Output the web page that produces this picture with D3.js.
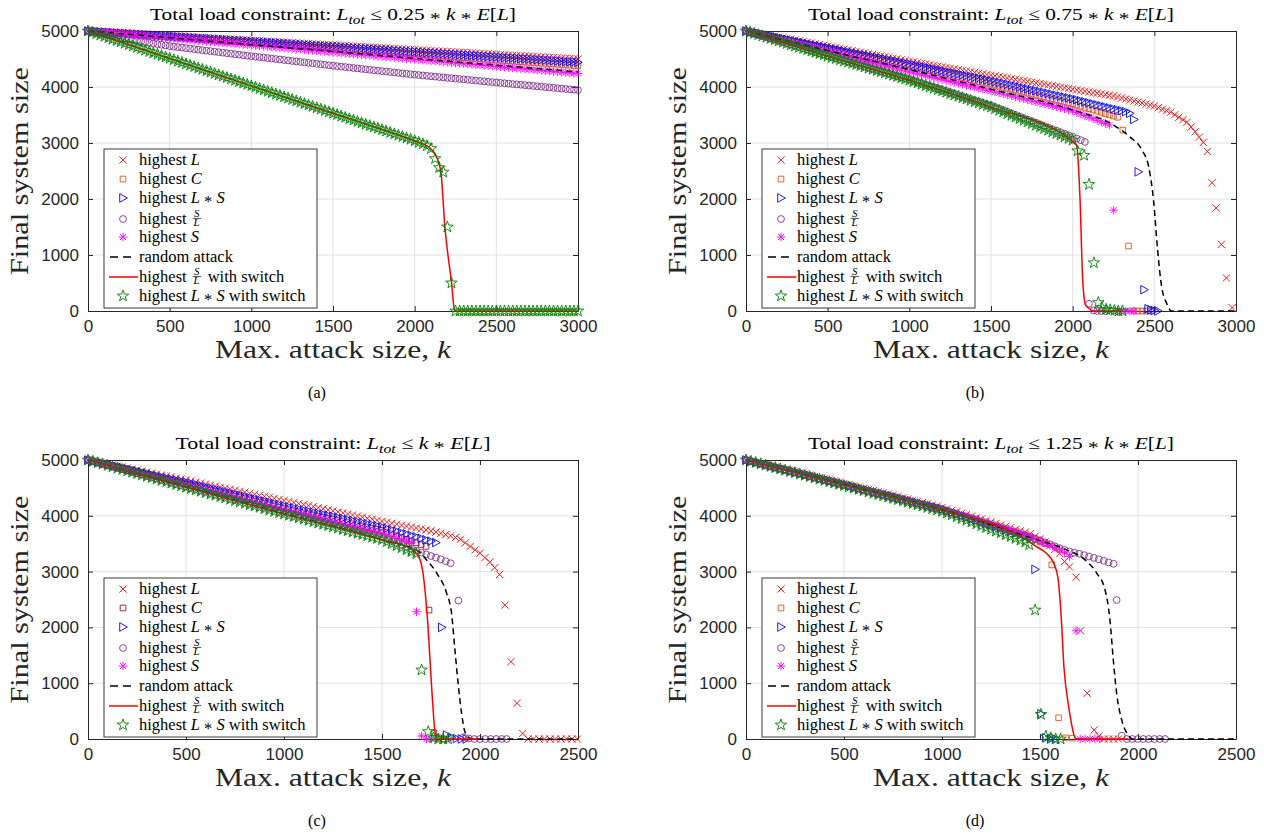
<!DOCTYPE html>
<html><head><meta charset="utf-8">
<script src="https://cdnjs.cloudflare.com/ajax/libs/d3/7.8.5/d3.min.js"></script>
<style>body{margin:0;background:#fff;} svg{display:block;}</style>
</head><body>
<script>
const STEP = 25;
// ===== panel (a): L_tot <= 0.25*k*E[L] =====
const aL = [5000,4996,4992,4988,4983,4979,4975,4971,4967,4962,4958,4954,4950,4946,4942,4937,4933,4929,4925,4921,4917,4912,4908,4904,4900,4896,4892,4887,4883,4879,4875,4871,4867,4862,4858,4854,4850,4846,4842,4837,4833,4829,4825,4821,4817,4812,4808,4804,4800,4796,4792,4787,4783,4779,4775,4771,4767,4762,4758,4754,4750,4746,4742,4737,4733,4729,4725,4721,4717,4712,4708,4704,4700,4696,4692,4687,4683,4679,4675,4671,4667,4662,4658,4654,4650,4646,4642,4637,4633,4629,4625,4621,4617,4612,4608,4604,4600,4596,4592,4587,4583,4579,4575,4571,4567,4562,4558,4554,4550,4546,4542,4537,4533,4529,4525,4521,4517,4512,4508,4504,4500];
const aC = [5000,4995,4990,4984,4979,4974,4969,4964,4959,4954,4948,4943,4938,4933,4928,4923,4917,4912,4907,4902,4897,4892,4886,4881,4876,4871,4866,4860,4855,4850,4845,4840,4835,4830,4824,4819,4814,4809,4804,4798,4793,4788,4783,4778,4773,4768,4762,4757,4752,4747,4742,4737,4731,4726,4721,4716,4711,4706,4700,4695,4690,4685,4680,4675,4669,4664,4659,4654,4649,4643,4638,4633,4628,4623,4618,4613,4607,4602,4597,4592,4587,4582,4576,4571,4566,4561,4556,4550,4545,4540,4535,4530,4525,4520,4514,4509,4504,4499,4494,4488,4483,4478,4473,4468,4463,4458,4452,4447,4442,4437,4432,4427,4421,4416,4411,4406,4401,4395,4390,4385,4380];
const aLS = [5000,4995,4991,4986,4981,4977,4972,4967,4963,4958,4953,4949,4944,4939,4935,4930,4925,4921,4916,4911,4907,4902,4897,4893,4888,4883,4879,4874,4869,4865,4860,4855,4851,4846,4841,4837,4832,4827,4823,4818,4813,4809,4804,4799,4795,4790,4785,4781,4776,4771,4767,4762,4757,4753,4748,4743,4739,4734,4729,4725,4720,4715,4711,4706,4701,4697,4692,4687,4683,4678,4673,4669,4664,4659,4655,4650,4645,4641,4636,4631,4627,4622,4617,4613,4608,4603,4599,4594,4589,4585,4580,4575,4571,4566,4561,4557,4552,4547,4543,4538,4533,4529,4524,4519,4515,4510,4505,4501,4496,4491,4487,4482,4477,4473,4468,4463,4459,4454,4449,4445,4440];
const aSL = [5000,4985,4970,4955,4940,4925,4910,4895,4880,4865,4850,4838,4826,4814,4802,4790,4778,4766,4754,4742,4730,4721,4712,4703,4694,4685,4676,4667,4658,4649,4640,4631,4622,4613,4604,4595,4586,4577,4568,4559,4550,4542,4533,4525,4516,4508,4499,4491,4482,4474,4465,4457,4448,4440,4431,4423,4414,4406,4397,4389,4380,4372,4364,4356,4348,4340,4332,4324,4316,4308,4300,4292,4284,4276,4268,4260,4252,4244,4236,4228,4220,4213,4206,4199,4192,4185,4178,4171,4164,4157,4150,4143,4136,4129,4122,4115,4108,4101,4094,4087,4080,4073,4067,4060,4053,4046,4040,4033,4026,4019,4013,4006,3999,3992,3985,3979,3972,3965,3958,3952,3945];
const aS = [5000,4994,4987,4981,4975,4968,4962,4956,4949,4943,4937,4930,4924,4918,4911,4905,4899,4892,4886,4880,4873,4867,4861,4854,4848,4842,4835,4829,4823,4816,4810,4804,4797,4791,4785,4778,4772,4766,4759,4753,4747,4740,4734,4728,4721,4715,4709,4702,4696,4690,4683,4677,4671,4664,4658,4652,4645,4639,4633,4626,4620,4614,4607,4601,4595,4588,4582,4576,4569,4563,4557,4550,4544,4538,4531,4525,4519,4512,4506,4500,4493,4487,4481,4474,4468,4462,4455,4449,4443,4436,4430,4424,4417,4411,4405,4398,4392,4386,4379,4373,4367,4360,4354,4348,4341,4335,4329,4322,4316,4310,4303,4297,4291,4284,4278,4272,4265,4259,4253,4246,4240];
const aLSsw = [5000,4976,4951,4927,4902,4878,4853,4829,4804,4780,4755,4731,4706,4682,4657,4633,4608,4584,4559,4535,4510,4486,4461,4437,4412,4388,4363,4339,4314,4290,4265,4241,4216,4192,4167,4143,4118,4094,4069,4045,4020,3996,3971,3947,3922,3898,3873,3849,3824,3800,3775,3751,3726,3702,3677,3653,3628,3604,3579,3555,3530,3506,3481,3457,3432,3408,3383,3359,3334,3310,3285,3261,3236,3212,3187,3163,3138,3114,3089,3065,3040,3010,2985,2950,2900,2720,2560,2480,1500,500,0,0,0,0,0,0,0,0,0,0,0,0,0,0,0,0,0,0,0,0,0,0,0,0,0,0,0,0,0,0,0];
const aRandK = [0,500,1000,1500,2000,2500,3000];
const aRandV = [5000,4880,4755,4635,4510,4390,4270];
const aSLswK = [0,500,1000,1500,2000,2050,2075,2125,2160,2185,2226,2245,3000];
const aSLswV = [5000,4510,4020,3530,3040,2985,2950,2800,2500,1500,500,0,0];

// ===== panel (b): L_tot <= 0.75*k*E[L] =====
const bL = [5000,4987,4973,4960,4946,4933,4919,4906,4892,4879,4865,4852,4838,4825,4811,4798,4784,4771,4757,4744,4730,4717,4703,4690,4676,4663,4649,4636,4622,4609,4595,4582,4568,4555,4541,4528,4514,4501,4487,4474,4460,4448,4435,4423,4410,4398,4385,4373,4360,4348,4335,4323,4310,4298,4285,4273,4260,4248,4235,4223,4210,4198,4185,4173,4160,4148,4135,4123,4110,4098,4085,4073,4060,4048,4035,4023,4010,3998,3985,3973,3960,3948,3936,3924,3912,3900,3888,3876,3864,3852,3840,3822,3804,3786,3768,3750,3732,3714,3696,3678,3660,3632,3605,3578,3550,3505,3460,3415,3370,3285,3200,3105,3010,2850];
const bLTailK = [2853,2878,2910,2941,2976];
const bLTailV = [2290,1840,1190,590,60];
const bC = [5000,4985,4969,4954,4938,4923,4907,4892,4876,4861,4845,4830,4814,4799,4783,4768,4752,4737,4721,4706,4690,4674,4658,4642,4626,4610,4594,4578,4562,4546,4530,4514,4498,4482,4466,4450,4434,4418,4402,4386,4370,4354,4338,4322,4306,4290,4274,4258,4242,4226,4210,4194,4178,4162,4146,4130,4114,4098,4082,4066,4050,4033,4015,3998,3980,3963,3945,3928,3910,3893,3875,3858,3840,3823,3805,3788,3770,3753,3735,3718,3700,3678,3656,3634,3612,3590,3568,3546,3524,3502,3480,3460];
const bCTailK = [2307,2342,2375,2400,2425,2450,2475];
const bCTailV = [3230,1160,0,0,0,0,0];
const bLS = [5000,4985,4970,4955,4940,4925,4910,4895,4880,4865,4850,4835,4820,4805,4790,4775,4760,4745,4730,4715,4700,4686,4671,4657,4642,4628,4613,4599,4584,4570,4555,4541,4526,4512,4497,4483,4468,4454,4439,4425,4410,4395,4380,4365,4350,4335,4320,4305,4290,4275,4260,4245,4230,4215,4200,4185,4170,4155,4140,4125,4110,4094,4078,4062,4046,4030,4014,3998,3982,3966,3950,3934,3918,3902,3886,3870,3854,3838,3822,3806,3790,3772,3754,3736,3718,3700,3682,3664,3646,3628,3610,3593,3577,3560,3530,3420];
const bLSTailK = [2402,2437,2462,2480,2500,2522];
const bLSTailV = [2485,380,40,20,10,0];
const bSL = [5000,4978,4956,4934,4912,4890,4868,4846,4824,4802,4780,4758,4736,4714,4692,4670,4648,4626,4604,4582,4560,4539,4518,4497,4476,4455,4434,4413,4392,4371,4350,4329,4308,4287,4266,4245,4224,4203,4182,4161,4140,4117,4093,4070,4046,4023,3999,3976,3952,3929,3905,3882,3858,3835,3811,3788,3764,3741,3717,3694,3670,3642,3614,3586,3558,3530,3502,3474,3446,3418,3390,3362,3334,3306,3278,3250,3222,3194,3166,3138,3110,3080,3050,3020];
const bSLTailK = [2100,2128,2150,2175,2200];
const bSLTailV = [130,10,0,0,0];
const bS = [5000,4982,4964,4946,4928,4910,4892,4874,4856,4838,4820,4802,4784,4766,4748,4730,4712,4694,4676,4658,4640,4622,4603,4585,4566,4548,4529,4511,4492,4474,4455,4437,4418,4400,4381,4363,4344,4326,4307,4289,4270,4253,4236,4219,4202,4185,4168,4151,4134,4117,4100,4083,4066,4049,4032,4015,3998,3981,3964,3947,3930,3912,3895,3877,3859,3841,3824,3806,3788,3770,3753,3735,3717,3699,3682,3664,3646,3628,3611,3593,3575,3547,3518,3490,3462,3434,3405,3377,3349,3320];
const bSTailK = [2251,2275,2300,2325,2350,2375];
const bSTailV = [1800,0,0,0,0,0];
const bLSsw = [5000,4978,4955,4933,4910,4888,4865,4843,4820,4798,4775,4753,4730,4708,4685,4663,4640,4618,4595,4573,4550,4529,4507,4486,4464,4443,4421,4400,4378,4357,4335,4314,4292,4271,4249,4228,4206,4185,4163,4142,4120,4096,4072,4048,4024,4000,3976,3952,3928,3904,3880,3856,3832,3808,3784,3760,3736,3712,3688,3664,3640,3611,3581,3552,3522,3493,3463,3434,3404,3375,3345,3316,3286,3257,3227,3198,3168,3139,3109,3080,3050];
const bLSswTailK = [2030,2070,2100,2130,2157,2180,2205,2230,2255,2280,2305];
const bLSswTailV = [2860,2780,2260,860,150,60,30,20,10,0,0];
const bRandK = [0,500,1000,1500,2000,2250,2350,2425,2465,2495,2520,2545,2575,2605,3000];
const bRandV = [5000,4650,4310,3960,3590,3320,3110,2870,2580,1980,1090,430,140,0,0];
const bSLswK = [0,500,1000,1500,2000,2025,2045,2062,2080,2105,2125,2300];
const bSLswV = [5000,4550,4120,3640,3030,2950,2000,520,100,40,0,0];

// ===== panel (c): L_tot <= k*E[L] =====
const cL = [5000,4982,4964,4946,4928,4910,4892,4874,4856,4838,4820,4802,4784,4766,4748,4730,4712,4694,4676,4658,4640,4622,4604,4585,4567,4549,4531,4512,4494,4476,4458,4439,4421,4403,4385,4366,4348,4330,4312,4293,4275,4256,4238,4219,4200,4181,4163,4144,4125,4106,4088,4069,4050,4031,4013,3994,3975,3956,3938,3919,3900,3883,3866,3849,3832,3815,3798,3781,3764,3747,3730,3708,3685,3663,3640,3610,3580,3515,3450,3390,3330,3250,3170,3070,2950];
const cLTailK = [2128,2158,2189,2218,2245,2273,2301,2329,2357,2385,2413,2441,2469,2497];
const cLTailV = [2400,1385,640,100,0,0,0,0,0,0,0,0,0,0];
const cC = [5000,4979,4957,4936,4914,4893,4871,4850,4828,4807,4785,4764,4742,4721,4699,4678,4656,4635,4613,4592,4570,4548,4526,4504,4482,4460,4438,4416,4394,4372,4350,4328,4306,4284,4262,4240,4218,4196,4174,4152,4130,4111,4091,4072,4052,4033,4013,3994,3974,3955,3935,3916,3896,3877,3857,3838,3818,3799,3779,3760,3740,3708,3676,3644,3612,3580,3548,3516,3484,3452];
const cCTailK = [1740,1765,1790,1815];
const cCTailV = [2310,110,20,0];
const cLS = [5000,4980,4960,4940,4920,4900,4880,4860,4840,4820,4800,4780,4760,4740,4720,4700,4680,4660,4640,4620,4600,4579,4558,4537,4516,4495,4474,4453,4432,4411,4390,4369,4348,4327,4306,4285,4264,4243,4222,4201,4180,4161,4142,4123,4104,4085,4066,4047,4028,4009,3990,3971,3952,3933,3914,3895,3876,3857,3838,3819,3800,3775,3749,3724,3698,3673,3647,3622,3596,3571,3545,3520];
const cLSTailK = [1805,1830,1855,1880,1905,1930];
const cLSTailV = [2000,70,30,10,0,0];
const cSL = [5000,4977,4953,4930,4906,4883,4859,4836,4812,4789,4765,4742,4718,4695,4671,4648,4624,4601,4577,4554,4530,4507,4483,4460,4436,4413,4389,4366,4342,4319,4295,4272,4248,4225,4201,4178,4154,4131,4107,4084,4060,4038,4016,3994,3972,3950,3928,3906,3884,3862,3840,3818,3796,3774,3752,3730,3708,3686,3664,3642,3620,3585,3550,3515,3480,3445,3410,3375,3340,3310,3280,3250,3220,3185,3150];
const cSLTailK = [1890,1915,1943,1971,1999,2027,2055,2083,2111,2136];
const cSLTailV = [2480,30,10,0,0,0,0,0,0,0];
const cS = [5000,4978,4956,4934,4912,4890,4868,4846,4824,4802,4780,4758,4736,4714,4692,4670,4648,4626,4604,4582,4560,4538,4515,4493,4470,4448,4425,4403,4380,4358,4335,4313,4290,4268,4245,4223,4200,4178,4155,4133,4110,4089,4067,4046,4024,4003,3981,3960,3938,3917,3895,3874,3852,3831,3809,3788,3766,3745,3723,3702,3680,3653,3627,3600,3573,3547,3520];
const cSTailK = [1676,1702,1727,1752];
const cSTailV = [2280,55,0,0];
const cLSsw = [5000,4976,4951,4927,4902,4878,4853,4829,4804,4780,4755,4731,4706,4682,4657,4633,4608,4584,4559,4535,4510,4486,4462,4438,4414,4390,4366,4342,4318,4294,4270,4246,4222,4198,4174,4150,4126,4102,4078,4054,4030,4007,3984,3961,3938,3915,3892,3869,3846,3823,3800,3777,3754,3731,3708,3685,3662,3639,3616,3593,3570,3534,3499,3463,3427,3391,3356,3320];
const cLSswTailK = [1702,1736,1762,1787,1812,1837];
const cLSswTailV = [1237,131,20,0,0,0];
const cRandK = [0,500,1000,1500,1700,1720,1780,1830,1855,1872,1890,1906,1923,1940,1960,2500];
const cRandV = [5000,4520,4040,3570,3330,3240,2970,2610,2250,1600,940,460,130,40,0,0];
const cSLswK = [0,500,1000,1500,1650,1690,1708,1735,1752,1770,1780,1990];
const cSLswV = [5000,4510,4030,3570,3400,3250,3000,2000,1000,140,0,0];

// ===== panel (d): L_tot <= 1.25*k*E[L] =====
const dL = [5000,4979,4958,4937,4916,4895,4874,4853,4832,4811,4790,4769,4748,4727,4706,4685,4664,4643,4622,4601,4580,4559,4537,4516,4494,4473,4451,4430,4408,4387,4365,4344,4322,4301,4279,4258,4236,4215,4193,4172,4150,4124,4098,4072,4046,4020,3993,3967,3941,3915,3889,3863,3837,3811,3785,3758,3732,3706,3680,3635,3590,3530,3470,3395,3320,3180,3085];
const dLTailK = [1684,1707,1741,1776,1800,1825,1850,1875,1900];
const dLTailV = [2900,1940,820,160,50,0,0,0,0];
const dC = [5000,4978,4956,4933,4911,4889,4867,4844,4822,4800,4778,4755,4733,4711,4689,4666,4644,4622,4600,4577,4555,4533,4511,4488,4466,4444,4422,4399,4377,4355,4333,4310,4288,4266,4244,4221,4199,4177,4155,4132,4110,4082,4054,4027,3999,3971,3943,3916,3888,3860,3832,3804,3777,3749,3721,3693,3666,3638,3610,3573,3537,3500];
const dCTailK = [1560,1595,1630,1665];
const dCTailV = [3120,380,20,15];
const dLS = [5000,4978,4956,4934,4912,4890,4868,4846,4824,4802,4780,4758,4736,4714,4692,4670,4648,4626,4604,4582,4560,4538,4516,4494,4472,4450,4428,4406,4384,4362,4340,4318,4296,4274,4252,4230,4208,4186,4164,4142,4120,4091,4062,4033,4004,3975,3946,3918,3889,3860,3831,3802,3773,3744,3715,3687,3658,3629,3600];
const dLSTailK = [1475,1505,1530,1555,1580];
const dLSTailV = [3040,450,20,0,0];
const dSL = [5000,4978,4956,4934,4912,4890,4868,4846,4824,4802,4780,4758,4736,4714,4692,4670,4648,4626,4604,4582,4560,4538,4515,4493,4470,4448,4425,4403,4380,4358,4335,4313,4290,4268,4245,4223,4200,4178,4155,4133,4110,4083,4056,4028,4001,3974,3947,3920,3892,3865,3838,3811,3784,3756,3729,3702,3675,3647,3620,3590,3560,3525,3490,3455,3420,3390,3360,3340,3320,3295,3270,3245,3220,3193,3165,3140];
const dSLTailK = [1891,1917,1943,1971,1999,2027,2055,2083,2111,2138];
const dSLTailV = [2490,60,0,0,0,0,0,0,0,0];
const dS = [5000,4978,4956,4934,4912,4890,4868,4846,4824,4802,4780,4758,4736,4714,4692,4670,4648,4626,4604,4582,4560,4538,4516,4494,4472,4450,4428,4406,4384,4362,4340,4318,4296,4274,4252,4230,4208,4186,4164,4142,4120,4092,4064,4037,4009,3981,3953,3926,3898,3870,3842,3814,3787,3759,3731,3703,3676,3648,3620,3583,3545,3508,3470,3435,3400,3335,3270];
const dSTailK = [1684,1705,1730,1755,1780,1805];
const dSTailV = [1940,0,0,0,0,0];
const dLSsw = [5000,4977,4954,4931,4908,4885,4862,4839,4816,4793,4770,4747,4724,4701,4678,4655,4632,4609,4586,4563,4540,4517,4494,4471,4448,4425,4402,4379,4356,4333,4310,4287,4264,4241,4218,4195,4172,4149,4126,4103,4080,4048,4015,3983,3951,3918,3886,3854,3821,3789,3756,3724,3692,3659,3627,3595,3562,3530];
const dLSswTailK = [1445,1475,1505,1530,1555,1580,1605];
const dLSswTailV = [3480,2310,440,50,20,0,0];
const dRandK = [0,500,1000,1458,1636,1730,1790,1832,1857,1874,1891,1917,1950,1975,2500];
const dRandV = [5000,4560,4110,3600,3390,3210,2970,2670,2130,1420,820,340,70,0,0];
const dSLswK = [0,500,1000,1410,1480,1535,1570,1592,1608,1622,1645,1662,1680,1700,1950];
const dSLswV = [5000,4550,4100,3610,3450,3320,3150,2880,2200,1300,610,250,15,0,0];

// ===== axes / labels =====
const xTicks3000 = [0,500,1000,1500,2000,2500,3000];
const xTicks2500 = [0,500,1000,1500,2000,2500];
const yTicks = [0,1000,2000,3000,4000,5000];
const coefLabels = ["0.25", "0.75", "", "1.25"];
const subLabels = ["(a)", "(b)", "(c)", "(d)"];

// ---------------------------------------------------------------
const SERIF = "'Liberation Serif','Times New Roman',serif";
const SANS = "'Liberation Sans',Arial,Helvetica,sans-serif";
const COL = {L:'#FF0000', C:'#D95319', C2:'#A2142F', LS:'#0000FF', SL:'#7E2F8E', S:'#FF00FF', G:'#008000'};

function starPath(R, r) {
  let p = '';
  for (let i = 0; i < 10; i++) {
    const a = -Math.PI/2 + i*Math.PI/5, rr = i % 2 ? r : R;
    p += (i ? 'L' : 'M') + (rr*Math.cos(a)).toFixed(2) + ',' + (rr*Math.sin(a)).toFixed(2);
  }
  return p + 'Z';
}
const MK = {
  x: 'M-3.6,-3.6L3.6,3.6M-3.6,3.6L3.6,-3.6',
  sq: 'M-2.8,-2.8H2.8V2.8H-2.8Z',
  tri: 'M-3.3,-4.3L4.3,0L-3.3,4.3Z',
  o: 'M3.4,0A3.4,3.4 0 1,1 -3.4,0A3.4,3.4 0 1,1 3.4,0Z',
  ast: 'M-4.3,0H4.3M0,-4.3V4.3M-3,-3L3,3M-3,3L3,-3',
  star: starPath(6, 2.4)
};

function pts(body, tk, tv) {
  const p = body.map((v, i) => [i*STEP, v]);
  if (tk) tk.forEach((k, j) => p.push([k, tv[j]]));
  return p;
}
function zip(k, v) { return k.map((kk, i) => [kk, v[i]]); }

const panels = [
  {left:88, top:31, h:280, xMax:3000, xt:xTicks3000, cCol:COL.C, tw:366,
   L:pts(aL), C:pts(aC), LS:pts(aLS), SL:pts(aSL), S:pts(aS), R:zip(aRandK,aRandV), SW:zip(aSLswK,aSLswV), G:pts(aLSsw)},
  {left:746, top:31, h:280, xMax:3000, xt:xTicks3000, cCol:COL.C, tw:366,
   L:pts(bL,bLTailK,bLTailV), C:pts(bC,bCTailK,bCTailV), LS:pts(bLS,bLSTailK,bLSTailV), SL:pts(bSL,bSLTailK,bSLTailV),
   S:pts(bS,bSTailK,bSTailV), R:zip(bRandK,bRandV), SW:zip(bSLswK,bSLswV), G:pts(bLSsw,bLSswTailK,bLSswTailV)},
  {left:88, top:460, h:279, xMax:2500, xt:xTicks2500, cCol:COL.C2, tw:315,
   L:pts(cL,cLTailK,cLTailV), C:pts(cC,cCTailK,cCTailV), LS:pts(cLS,cLSTailK,cLSTailV), SL:pts(cSL,cSLTailK,cSLTailV),
   S:pts(cS,cSTailK,cSTailV), R:zip(cRandK,cRandV), SW:zip(cSLswK,cSLswV), G:pts(cLSsw,cLSswTailK,cLSswTailV)},
  {left:746, top:460, h:279, xMax:2500, xt:xTicks2500, cCol:COL.C, tw:366,
   L:pts(dL,dLTailK,dLTailV), C:pts(dC,dCTailK,dCTailV), LS:pts(dLS,dLSTailK,dLSTailV), SL:pts(dSL,dSLTailK,dSLTailV),
   S:pts(dS,dSTailK,dSTailV), R:zip(dRandK,dRandV), SW:zip(dSLswK,dSLswV), G:pts(dLSsw,dLSswTailK,dLSswTailV)}
];

const svg = d3.select('body').append('svg').attr('width', 1264).attr('height', 838)
  .style('background', '#fff');

// parts: {t, i: italic, sub: subscript, ast: centred asterisk}
function addParts(t, parts) {
  let shift = 0;
  parts.forEach(p => {
    const want = p.sub ? 4 : (p.ast ? 4 : 0);
    const ts = t.append('tspan');
    if (want - shift) ts.attr('dy', want - shift);
    shift = want;
    if (p.i) ts.attr('font-style', 'italic');
    if (p.sub) ts.attr('font-size', '0.72em');
    ts.text(p.t);
  });
  if (shift) t.append('tspan').attr('dy', -shift).text('');
}

function drawMarkers(g, data, path, color) {
  g.append('g').selectAll('path').data(data).join('path')
    .attr('d', path)
    .attr('transform', d => `translate(${d[0].toFixed(2)},${d[1].toFixed(2)})`)
    .attr('fill', 'none').attr('stroke', color).attr('stroke-width', 0.9);
}

panels.forEach((P, pi) => {
  const W = 490, H = P.h;
  const x = d3.scaleLinear().domain([0, P.xMax]).range([P.left, P.left + W]);
  const y = d3.scaleLinear().domain([0, 5000]).range([P.top + H, P.top]);
  const g = svg.append('g');

  // grid
  g.append('g').selectAll('line').data(P.xt.slice(1, -1)).join('line')
    .attr('x1', d => x(d)).attr('x2', d => x(d)).attr('y1', P.top).attr('y2', P.top + H)
    .attr('stroke', '#e1e1e1').attr('stroke-width', 1);
  g.append('g').selectAll('line').data(yTicks.slice(1, -1)).join('line')
    .attr('y1', d => y(d)).attr('y2', d => y(d)).attr('x1', P.left).attr('x2', P.left + W)
    .attr('stroke', '#e1e1e1').attr('stroke-width', 1);

  const axB = g.append('g').attr('transform', `translate(0,${P.top + H})`)
    .call(d3.axisBottom(x).tickValues(P.xt).tickSizeInner(-5).tickSizeOuter(0).tickPadding(9).tickFormat(d3.format('d')));
  const axT = g.append('g').attr('transform', `translate(0,${P.top})`)
    .call(d3.axisTop(x).tickValues(P.xt).tickSizeInner(-5).tickSizeOuter(0).tickFormat(''));
  const axL = g.append('g').attr('transform', `translate(${P.left},0)`)
    .call(d3.axisLeft(y).tickValues(yTicks).tickSizeInner(-5).tickSizeOuter(0).tickPadding(9).tickFormat(d3.format('d')));
  const axR = g.append('g').attr('transform', `translate(${P.left + W},0)`)
    .call(d3.axisRight(y).tickValues(yTicks).tickSizeInner(-5).tickSizeOuter(0).tickFormat(''));
  [axB, axT, axL, axR].forEach(a => {
    a.selectAll('.domain').attr('stroke', '#262626').attr('stroke-width', 1);
    a.selectAll('.tick line').attr('stroke', '#262626').attr('stroke-width', 1);
    a.selectAll('text').attr('font-family', SANS).attr('font-size', 17).attr('fill', '#262626');
  });

  // data, MATLAB plot order
  const sx = d => [x(d[0]), y(d[1])];
  drawMarkers(g, P.L.map(sx), MK.x, COL.L);
  drawMarkers(g, P.C.map(sx), MK.sq, P.cCol);
  drawMarkers(g, P.LS.map(sx), MK.tri, COL.LS);
  drawMarkers(g, P.SL.map(sx), MK.o, COL.SL);
  drawMarkers(g, P.S.map(sx), MK.ast, COL.S);
  const line = d3.line().x(d => x(d[0])).y(d => y(d[1])).curve(d3.curveMonotoneX);
  g.append('path').datum(P.R).attr('d', line).attr('fill', 'none').attr('stroke', '#000')
    .attr('stroke-width', 1.5).attr('stroke-dasharray', '6,4');
  g.append('path').datum(P.SW).attr('d', line).attr('fill', 'none').attr('stroke', COL.L)
    .attr('stroke-width', 1.5);
  drawMarkers(g, P.G.map(sx), MK.star, COL.G);

  // title
  const cx = P.left + W/2;
  const t = g.append('text').attr('x', cx).attr('y', P.top - 11).attr('text-anchor', 'middle')
    .attr('font-family', SERIF).attr('font-size', 17).attr('fill', '#000')
    .attr('textLength', P.tw).attr('lengthAdjust', 'spacingAndGlyphs');
  const coef = coefLabels[pi] ? [{t: coefLabels[pi]}, {t: ' * ', ast: 1}] : [];
  addParts(t, [{t: 'Total load constraint:  '}, {t: 'L', i: 1}, {t: 'tot', i: 1, sub: 1}, {t: ' \u2264 '}]
    .concat(coef).concat([{t: 'k', i: 1}, {t: ' * ', ast: 1}, {t: 'E', i: 1}, {t: '['}, {t: 'L', i: 1}, {t: ']'}]));

  // axis labels
  const xl = g.append('text').attr('x', cx).attr('y', P.top + H + 47).attr('text-anchor', 'middle')
    .attr('font-family', SERIF).attr('font-size', 25.5).attr('fill', '#262626')
    .attr('textLength', 236).attr('lengthAdjust', 'spacingAndGlyphs');
  addParts(xl, [{t: 'Max. attack size, '}, {t: 'k', i: 1}]);
  g.append('text').attr('transform', `translate(${P.left - 60},${P.top + H/2}) rotate(-90)`)
    .attr('text-anchor', 'middle').attr('font-family', SERIF).attr('font-size', 24.5).attr('fill', '#262626')
    .attr('textLength', 208).attr('lengthAdjust', 'spacingAndGlyphs')
    .text('Final system size');

  // sub caption
  g.append('text').attr('x', P.left + 229).attr('y', P.top + H + 87).attr('text-anchor', 'middle')
    .attr('font-family', SERIF).attr('font-size', 16).attr('fill', '#000').text(subLabels[pi]);

  // legend
  const lx = P.left + 16, ly = P.top + 118;
  const lg = g.append('g');
  lg.append('rect').attr('x', lx).attr('y', ly).attr('width', 213).attr('height', 159)
    .attr('fill', '#fff').attr('stroke', '#262626').attr('stroke-width', 0.9);
  const rows = [11, 30, 49, 70, 88, 108, 128, 147];
  const mx = lx + 19, tx = lx + 35;
  const entry = (i, parts, xx) => {
    const te = lg.append('text').attr('x', xx || tx).attr('y', ly + rows[i] + 5).attr('font-family', SERIF)
      .attr('font-size', 16.5).attr('fill', '#000');
    addParts(te, parts);
    return te;
  };
  const frac = (i, fx) => {
    const yc = ly + rows[i];
    lg.append('text').attr('x', fx + 4).attr('y', yc - 2.2).attr('text-anchor', 'middle')
      .attr('font-family', SERIF).attr('font-size', 11).attr('font-style', 'italic').text('S');
    lg.append('line').attr('x1', fx).attr('x2', fx + 8.5).attr('y1', yc - 0.6).attr('y2', yc - 0.6)
      .attr('stroke', '#000').attr('stroke-width', 0.7);
    lg.append('text').attr('x', fx + 4).attr('y', yc + 7.4).attr('text-anchor', 'middle')
      .attr('font-family', SERIF).attr('font-size', 11).attr('font-style', 'italic').text('L');
  };
  const mk = (i, path, color) => lg.append('path').attr('d', path)
    .attr('transform', `translate(${mx},${ly + rows[i]})`).attr('fill', 'none').attr('stroke', color).attr('stroke-width', 0.9);

  mk(0, MK.x, COL.L); entry(0, [{t: 'highest '}, {t: 'L', i: 1}]);
  mk(1, MK.sq, P.cCol); entry(1, [{t: 'highest '}, {t: 'C', i: 1}]);
  mk(2, MK.tri, COL.LS); entry(2, [{t: 'highest '}, {t: 'L', i: 1}, {t: ' * ', ast: 1}, {t: 'S', i: 1}]);
  mk(3, MK.o, COL.SL);
  const e3 = entry(3, [{t: 'highest'}]);
  const w3 = e3.node().getComputedTextLength();
  frac(3, tx + w3 + 6);
  mk(4, MK.ast, COL.S); entry(4, [{t: 'highest '}, {t: 'S', i: 1}]);
  lg.append('line').attr('x1', lx + 6).attr('x2', lx + 28).attr('y1', ly + rows[5]).attr('y2', ly + rows[5])
    .attr('stroke', '#000').attr('stroke-width', 1.5).attr('stroke-dasharray', '8,5');
  entry(5, [{t: 'random attack'}]);
  lg.append('line').attr('x1', lx + 5).attr('x2', lx + 34).attr('y1', ly + rows[6]).attr('y2', ly + rows[6])
    .attr('stroke', COL.L).attr('stroke-width', 1.5);
  const e6 = entry(6, [{t: 'highest'}]);
  const w6 = e6.node().getComputedTextLength();
  frac(6, tx + w6 + 6);
  entry(6, [{t: 'with switch'}], tx + w6 + 21);
  mk(7, MK.star, COL.G); entry(7, [{t: 'highest '}, {t: 'L', i: 1}, {t: ' * ', ast: 1}, {t: 'S', i: 1}, {t: ' with switch'}]);
});
</script>
</body></html>
